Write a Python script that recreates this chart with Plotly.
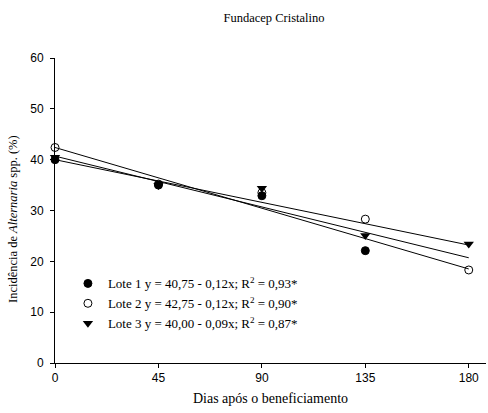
import plotly.graph_objects as go

days = [0, 45, 90, 135, 180]
lote1 = [40.0, 35.0, 32.9, 22.1, None]
lote2 = [42.4, 35.2, 33.5, 28.3, 18.3]
lote3 = [40.5, 34.9, 34.4, 25.1, 23.4]

fit_x = [0, 180]
fit1 = [40.7, 20.7]
fit2 = [42.4, 18.5]
fit3 = [40.0, 23.2]

names = [
    "Lote 1 y = 40,75 - 0,12x; R<sup>2</sup> = 0,93*",
    "Lote 2 y = 42,75 - 0,12x; R<sup>2</sup> = 0,90*",
    "Lote 3 y = 40,00 - 0,09x; R<sup>2</sup> = 0,87*",
]

serif = "Liberation Serif, Times New Roman, serif"
sans = "Liberation Sans, Arial, sans-serif"

fig = go.Figure()
for fy in [fit1, fit2, fit3]:
    fig.add_trace(go.Scatter(x=fit_x, y=fy, mode="lines", line=dict(color="black", width=1),
                             showlegend=False, hoverinfo="skip"))

fig.add_trace(go.Scatter(x=days, y=lote1, mode="markers", name=names[0],
                         marker=dict(symbol="circle", size=8, color="black",
                                     line=dict(color="black", width=1)), cliponaxis=False))
fig.add_trace(go.Scatter(x=days, y=lote2, mode="markers", name=names[1],
                         marker=dict(symbol="circle-open", size=8, color="black",
                                     line=dict(color="black", width=1)), cliponaxis=False))
fig.add_trace(go.Scatter(x=days, y=lote3, mode="markers", name=names[2],
                         marker=dict(symbol="triangle-down", size=9, color="black",
                                     line=dict(color="black", width=0)), cliponaxis=False))

fig.update_layout(
    width=488, height=413,
    margin=dict(l=55, r=2, t=58, b=50),
    paper_bgcolor="white", plot_bgcolor="white",
    title=dict(text="Fundacep Cristalino", x=(274 / 488), xanchor="center", y=1 - 18 / 413,
               yanchor="middle", font=dict(family=serif, size=12.5, color="black")),
    showlegend=True,
    legend=dict(x=0.030, y=0.31, xanchor="left", yanchor="top", bgcolor="rgba(0,0,0,0)",
                font=dict(family=serif, size=13, color="black"), itemwidth=30,
                tracegroupgap=0),
    xaxis=dict(range=[0, 187.5], tickvals=[0, 45, 90, 135, 180], showgrid=False, zeroline=False,
               showline=True, linecolor="black", linewidth=1, ticks="outside", ticklen=4,
               tickcolor="black", tickfont=dict(family=sans, size=12, color="black"),
               title=dict(text="Dias após o beneficiamento", standoff=8,
                          font=dict(family=serif, size=14, color="black"))),
    yaxis=dict(range=[0, 60], tickvals=[0, 10, 20, 30, 40, 50, 60], showgrid=False, zeroline=False,
               showline=True, linecolor="black", linewidth=1, ticks="outside", ticklen=4,
               tickcolor="black", ticklabelstandoff=4, tickfont=dict(family=sans, size=12, color="black")),
    annotations=[dict(text="Incidência de <i>Alternaria</i> spp. (%)", textangle=-90,
                      xref="paper", yref="paper", x=(13 - 55) / 431, y=(363 - 219) / 305,
                      xanchor="center", yanchor="middle", showarrow=False,
                      font=dict(family=serif, size=12.5, color="black"))],
)

fig.write_html("out.html")
